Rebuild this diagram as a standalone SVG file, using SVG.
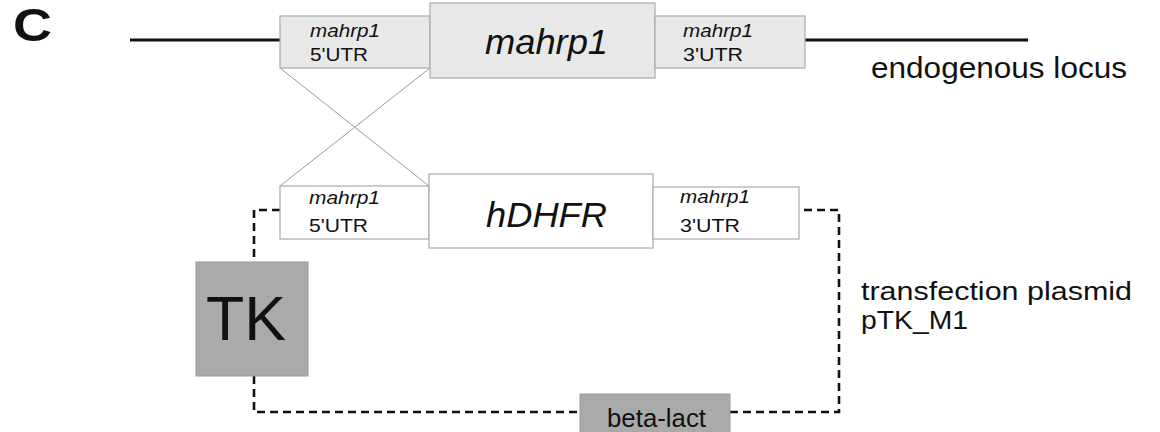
<svg xmlns="http://www.w3.org/2000/svg" width="1160" height="432" viewBox="0 0 1160 432">
<style>
text{font-family:"Liberation Sans",Arial,sans-serif;fill:#111}
.it{font-style:italic}
.gene{fill:#e8e8e8;stroke:#aaa;stroke-width:1.2}
.plas{fill:#fff;stroke:#aaa;stroke-width:1.2}
.marker{fill:#aaa;stroke:#999;stroke-width:1}
.solid{stroke:#111;stroke-width:3;fill:none}
.cross{stroke:#999;stroke-width:1;fill:none}
.dash{stroke:#111;stroke-width:2.6;fill:none;stroke-dasharray:8 5}
</style>
<rect width="1160" height="432" fill="#fff"/>
<text x="13" y="41" font-size="46" font-weight="bold" textLength="39" lengthAdjust="spacingAndGlyphs">C</text>
<g id="connectors">
<line class="solid" x1="130" y1="40" x2="280" y2="40"/>
<line class="solid" x1="805" y1="40" x2="1028" y2="40"/>
<line class="cross" x1="280" y1="68" x2="429" y2="186"/>
<line class="cross" x1="430" y1="68" x2="280" y2="186"/>
<path class="dash" d="M280 210 H254 V262"/>
<path class="dash" d="M254 376 V412 H580"/>
<path class="dash" d="M730 412 H839 V210 H799"/>
</g>
<g id="locus-5utr">
<rect class="gene" x="280" y="16" width="150" height="52"/>
<text class="it" x="310" y="37" font-size="19" textLength="70" lengthAdjust="spacingAndGlyphs">mahrp1</text>
<text x="310" y="61" font-size="19" textLength="58" lengthAdjust="spacingAndGlyphs">5'UTR</text>
</g>
<g id="locus-gene">
<rect class="gene" x="430" y="3" width="225" height="75"/>
<text class="it" x="485" y="54" font-size="35" textLength="123" lengthAdjust="spacingAndGlyphs">mahrp1</text>
</g>
<g id="locus-3utr">
<rect class="gene" x="655" y="16" width="150" height="52"/>
<text class="it" x="683" y="37" font-size="19" textLength="70" lengthAdjust="spacingAndGlyphs">mahrp1</text>
<text x="683" y="61" font-size="19" textLength="60" lengthAdjust="spacingAndGlyphs">3'UTR</text>
</g>
<g id="locus-label">
<text x="871" y="78" font-size="29" textLength="256" lengthAdjust="spacingAndGlyphs">endogenous locus</text>
</g>
<g id="plasmid-5utr">
<rect class="plas" x="280" y="186" width="149" height="53"/>
<text class="it" x="309" y="204" font-size="19" textLength="71" lengthAdjust="spacingAndGlyphs">mahrp1</text>
<text x="309" y="232" font-size="19" textLength="59" lengthAdjust="spacingAndGlyphs">5'UTR</text>
</g>
<g id="plasmid-hdhfr">
<rect class="plas" x="429" y="174" width="224" height="74"/>
<text class="it" x="486" y="227" font-size="35" textLength="121" lengthAdjust="spacingAndGlyphs">hDHFR</text>
</g>
<g id="plasmid-3utr">
<rect class="plas" x="653" y="187" width="146" height="52"/>
<text class="it" x="680" y="203" font-size="19" textLength="70" lengthAdjust="spacingAndGlyphs">mahrp1</text>
<text x="680" y="232" font-size="19" textLength="60" lengthAdjust="spacingAndGlyphs">3'UTR</text>
</g>
<g id="tk">
<rect class="marker" x="196" y="262" width="112" height="114"/>
<text x="206" y="340" font-size="63" textLength="80" lengthAdjust="spacingAndGlyphs">TK</text>
</g>
<g id="beta-lact">
<rect class="marker" x="580" y="394" width="150" height="40"/>
<text x="607" y="427" font-size="26" textLength="99" lengthAdjust="spacingAndGlyphs">beta-lact</text>
</g>
<g id="plasmid-label">
<text x="861" y="300" font-size="26" textLength="271" lengthAdjust="spacingAndGlyphs">transfection plasmid</text>
<text x="861" y="329" font-size="26" textLength="107" lengthAdjust="spacingAndGlyphs">pTK_M1</text>
</g>
</svg>
